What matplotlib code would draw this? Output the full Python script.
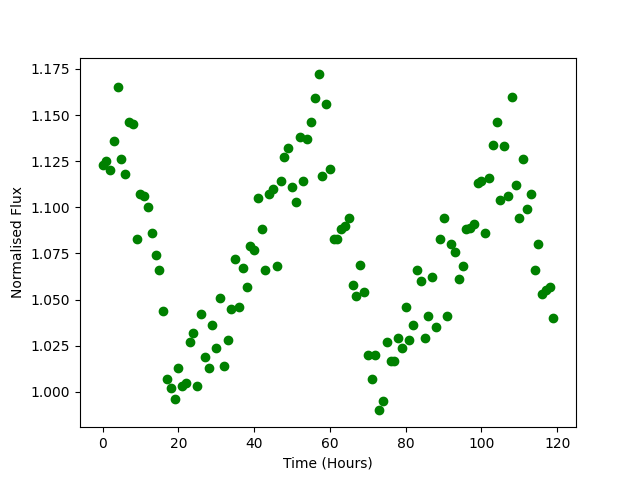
import matplotlib
matplotlib.use("Agg")
import matplotlib.pyplot as plt
import numpy as np

hours = list(range(120))
flux = [1.123, 1.125, 1.120, 1.136, 1.165, 1.126, 1.118, 1.146, 1.145, 1.083,
        1.107, 1.106, 1.100, 1.086, 1.074, 1.066, 1.044, 1.007, 1.002, 0.996,
        1.013, 1.003, 1.005, 1.027, 1.032, 1.003, 1.042, 1.019, 1.013, 1.036,
        1.024, 1.051, 1.014, 1.028, 1.045, 1.072, 1.046, 1.067, 1.057, 1.079,
        1.077, 1.105, 1.088, 1.066, 1.107, 1.110, 1.068, 1.114, 1.127, 1.132,
        1.111, 1.103, 1.138, 1.114, 1.137, 1.146, 1.159, 1.172, 1.117, 1.156,
        1.121, 1.083, 1.083, 1.088, 1.090, 1.094, 1.058, 1.052, 1.069, 1.054,
        1.020, 1.007, 1.020, 0.990, 0.995, 1.027, 1.017, 1.017, 1.029, 1.024,
        1.046, 1.028, 1.036, 1.066, 1.060, 1.029, 1.041, 1.062, 1.035, 1.083,
        1.094, 1.041, 1.080, 1.076, 1.061, 1.068, 1.088, 1.089, 1.091, 1.113,
        1.114, 1.086, 1.116, 1.134, 1.146, 1.104, 1.133, 1.106, 1.160, 1.112,
        1.094, 1.126, 1.099, 1.107, 1.066, 1.080, 1.053, 1.055, 1.057, 1.040]

fig, ax = plt.subplots(figsize=(6.4, 4.8), dpi=100)
ax.plot(hours, flux, 'o', color='green')
ax.set_xlabel('Time (Hours)')
ax.set_ylabel('Normalised Flux')
fig.savefig('out.png')
